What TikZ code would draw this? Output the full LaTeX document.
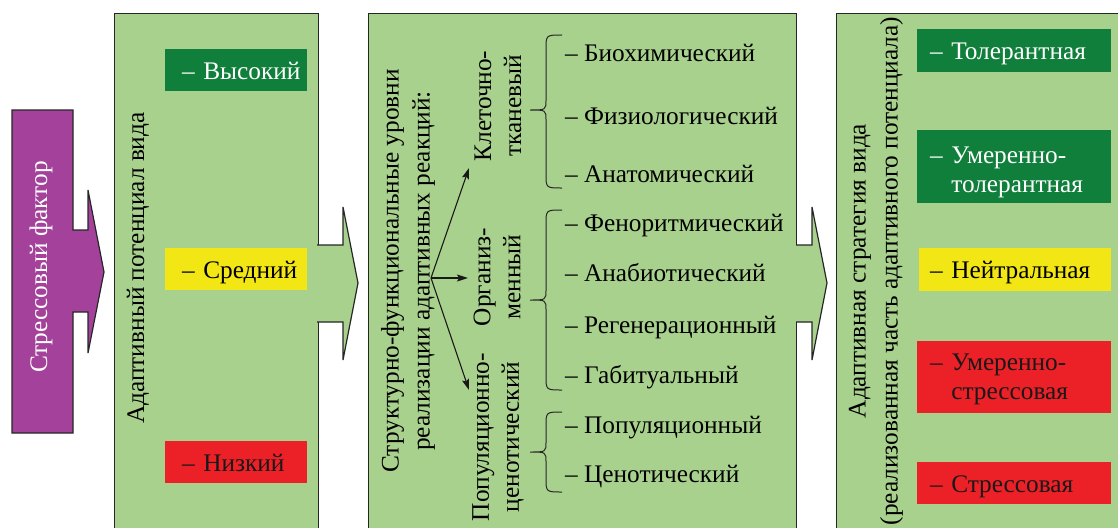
\documentclass[tikz,border=0pt]{standalone}
\usepackage{fontspec}
\setmainfont{Liberation Serif}
\usetikzlibrary{arrows.meta}
\definecolor{lg}{HTML}{A9D18E}
\definecolor{dg}{HTML}{117F3C}
\definecolor{yl}{HTML}{F2E614}
\definecolor{rd}{HTML}{EC2027}
\definecolor{pu}{HTML}{A4419A}
\newcommand\mybrace[3]{%
  \draw[bracestyle] (562,#1) .. controls (546,#1) .. (546,#1+14) -- (546,#2-10)
    .. controls (546,#2) .. (530,#2) .. controls (546,#2) .. (546,#2+10)
    -- (546,#3-14) .. controls (546,#3) .. (562,#3);}
\begin{document}
\begin{tikzpicture}[x=1pt,y=-1pt,
  every node/.style={font=\fontsize{25.3}{29}\selectfont},
  frame/.style={draw=black!85, line width=1.2pt, fill=lg, anchor=north west, inner sep=0pt},
  bigarrow/.style={draw=black!85, line width=1.2pt, fill=#1, line join=miter},
  bracestyle/.style={draw=black!85, line width=1pt},
  conn/.style={draw=black!90, line width=1.1pt, -{Stealth[length=11pt,width=7pt,inset=2pt]}},
  vtext/.style={rotate=90, align=center, inner sep=0pt},
  item/.style={anchor=base west, inner sep=0pt},
  lvl/.style={anchor=north west, inner sep=0pt, text height=23pt, text depth=5pt, align=left, fill=#1},
  indent/.style={execute at begin node={\leftskip=#1\relax}},
]
\useasboundingbox (0,0) rectangle (1118,527);
\clip (0,0) rectangle (1118,527);

% frames
\node[frame, minimum width=204pt, minimum height=540pt] (pot) at (114,13) {};
\node[frame, minimum width=428pt, minimum height=540pt] (lev) at (368,13) {};
\node[frame, minimum width=300pt, minimum height=540pt] (str) at (836,13) {};

% purple stress arrow
\draw[bigarrow=pu] (12,110) -- (73,110) -- (73,230) -- (88,230) -- (88,190) -- (104,272)
  -- (88,353) -- (88,312) -- (73,312) -- (73,433) -- (12,433) -- cycle;
\node[vtext, text=white] (stress) at (41,267) {Стрессовый фактор};

% green arrows
\draw[bigarrow=lg] (317,245) -- (343,245) -- (343,207) -- (358,283) -- (343,360) -- (343,322) -- (317,322);
\draw[bigarrow=lg] (796,245) -- (812,245) -- (812,207) -- (827,283) -- (812,360) -- (812,322) -- (796,322);

% box 1
\node[vtext] (pottxt) at (138,268) {Адаптивный потенциал вида};
\node[lvl=dg, text=white, minimum height=42pt, text width=142pt, indent=17pt] (hi) at (165,49) {– Высокий};
\node[lvl=yl, minimum height=42pt, text width=142pt, indent=17pt] (mid) at (165,248) {– Средний};
\node[lvl=rd, text=black!90, minimum height=42pt, text width=142pt, indent=17pt] (lo) at (165,441) {– Низкий};

% box 2
\node[vtext, font=\fontsize{25.3}{31}\selectfont] (levtxt) at (408,271) {Структурно-функциональные уровни\\реализации адаптивных реакций:};
\node[vtext, font=\fontsize{25.3}{30}\selectfont] (kl) at (498,106) {Клеточно-\\тканевый};
\node[vtext, font=\fontsize{25.3}{30}\selectfont] (org) at (497,277) {Организ-\\менный};
\node[vtext, font=\fontsize{25.3}{30}\selectfont] (pop) at (498,437) {Популяционно-\\ценотический};

\coordinate (o) at (431,278);
\coordinate (tkl) at (469,168);
\coordinate (torg) at (468,278);
\coordinate (tpop) at (469,390);
\draw[conn] (o) -- (tkl);
\draw[conn] (o) -- (torg);
\draw[conn] (o) -- (tpop);

\mybrace{35}{110}{188}
\mybrace{210}{300}{390}
\mybrace{412}{452}{492}

\node[item] (bio) at (565,61) {– Биохимический};
\node[item] (fiz) at (565,124) {– Физиологический};
\node[item] (ana) at (565,182) {– Анатомический};
\node[item] (fen) at (565,231) {– Феноритмический};
\node[item] (anb) at (565,281) {– Анабиотический};
\node[item] (reg) at (565,333) {– Регенерационный};
\node[item] (gab) at (565,383) {– Габитуальный};
\node[item] (popu) at (565,433) {– Популяционный};
\node[item] (cen) at (565,482) {– Ценотический};

% box 3
\node[vtext, font=\fontsize{25.3}{32}\selectfont] (strtxt) at (876,271) {Адаптивная стратегия вида\\(реализованная часть адаптивного потенциала)};
\node[lvl=dg, text=white, minimum height=43pt, text width=194pt, indent=13pt] (tol) at (917,29) {– Толерантная};
\node[lvl=dg, text=white, minimum height=73pt, text width=194pt, indent=13pt, text depth=30pt] (utol) at (917,130) {– Умеренно-\\\phantom{– }толерантная};
\node[lvl=yl, minimum height=43pt, text width=192pt, indent=11pt] (neu) at (919,248) {– Нейтральная};
\node[lvl=rd, text=black!90, minimum height=72pt, text width=194pt, indent=13pt, text depth=37pt] (ustr) at (917,341) {– Умеренно-\\\phantom{– }стрессовая};
\node[lvl=rd, text=black!90, minimum height=42pt, text width=194pt, indent=13pt] (stre) at (917,462) {– Стрессовая};
\end{tikzpicture}
\end{document}
